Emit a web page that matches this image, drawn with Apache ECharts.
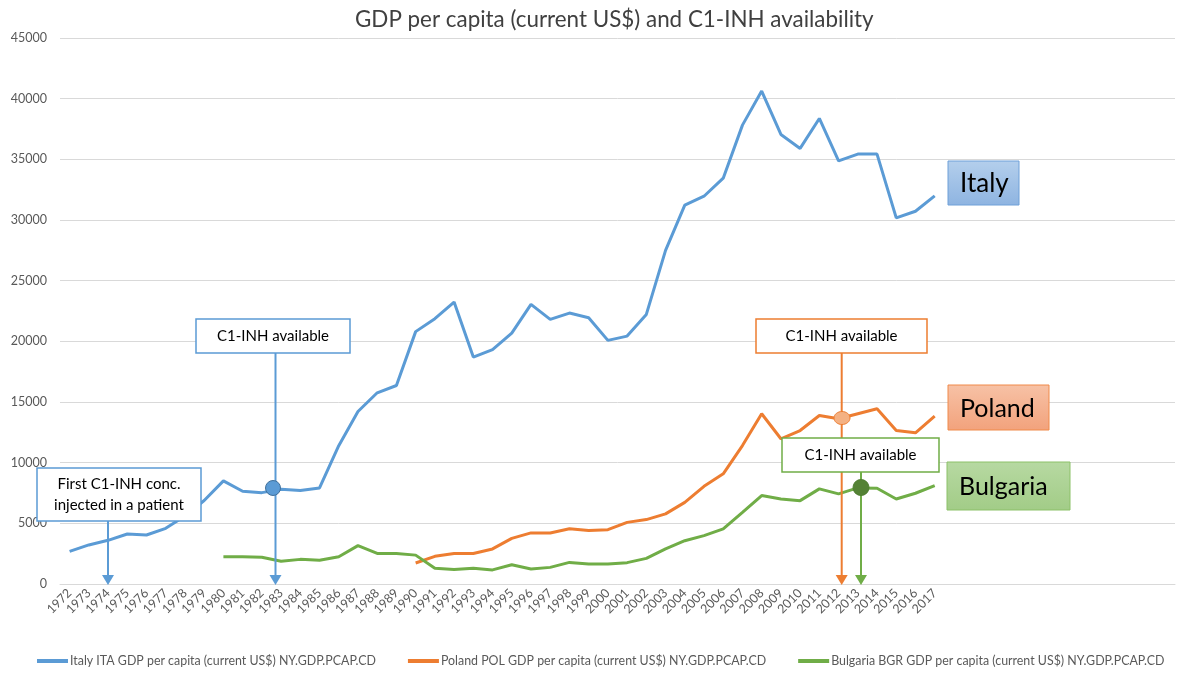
<!DOCTYPE html>
<html>
<head>
<meta charset="utf-8">
<script src="https://cdn.jsdelivr.net/npm/echarts@6/dist/echarts.min.js"></script>
<style>html,body{margin:0;padding:0;background:#fff}#c{width:1180px;height:673px}</style>
</head>
<body>
<div id="c"></div>
<script>
const years = ['1972','1973','1974','1975','1976','1977','1978','1979','1980','1981','1982','1983','1984','1985','1986','1987','1988','1989','1990','1991','1992','1993','1994','1995','1996','1997','1998','1999','2000','2001','2002','2003','2004','2005','2006','2007','2008','2009','2010','2011','2012','2013','2014','2015','2016','2017'];
const emptySlots = ['','','','','','','','','','','',''];
const categories = years.concat(emptySlots);

const italy = [2690,3220,3600,4120,4040,4590,5600,6880,8500,7640,7530,7800,7700,7920,11400,14220,15760,16360,20800,21870,23240,18700,19310,20680,23050,21810,22330,21950,20080,20430,22220,27500,31220,31960,33450,37820,40630,37050,35900,38370,34870,35430,35430,30170,30720,31990];
const poland = [null,null,null,null,null,null,null,null,null,null,null,null,null,null,null,null,null,null,1730,2280,2520,2520,2890,3760,4210,4210,4560,4400,4480,5080,5310,5780,6730,8050,9080,11410,14030,11970,12650,13890,13620,14030,14440,12650,12460,13830];
const bulgaria = [null,null,null,null,null,null,null,null,2250,2250,2200,1870,2030,1950,2250,3160,2520,2520,2380,1290,1200,1290,1160,1590,1240,1370,1780,1650,1650,1760,2110,2890,3570,3990,4540,5910,7290,7010,6870,7840,7430,7920,7890,7010,7480,8110];

const seriesNames = [
  'Italy ITA GDP per capita (current US$) NY.GDP.PCAP.CD',
  'Poland POL GDP per capita (current US$) NY.GDP.PCAP.CD',
  'Bulgaria BGR GDP per capita (current US$) NY.GDP.PCAP.CD'
];
const colors = ['#5B9BD5','#ED7D31','#70AD47'];
const FONT = 'Lato';

function arrow(x, yTop, color) {
  return [
    {type:'line', z:100, shape:{x1:x,y1:yTop,x2:x,y2:577}, style:{stroke:color,lineWidth:2}},
    {type:'polygon', z:100, shape:{points:[[x-6,575],[x+6,575],[x,585]]}, style:{fill:color}}
  ];
}
function callout(x, y, w, h, color, lines, fs) {
  const els = [{type:'rect', z:101, shape:{x:x,y:y,width:w,height:h}, style:{fill:'#fff',stroke:color,lineWidth:1.5}}];
  const lh = fs + 6;
  const startY = y + h/2 - (lines.length-1)*lh/2;
  lines.forEach((t,i)=>{
    els.push({type:'text', z:102, style:{text:t, x:x+w/2, y:startY+i*lh, align:'center', verticalAlign:'middle', font:fs+'px '+FONT, fill:'#000'}});
  });
  return els;
}
function label(x, y, w, h, c1, c2, stroke, text, fs) {
  return [
    {type:'rect', z:101, shape:{x:x,y:y,width:w,height:h}, style:{fill:new echarts.graphic.LinearGradient(0,0,0,1,[{offset:0,color:c1},{offset:1,color:c2}]),stroke:stroke,lineWidth:1}},
    {type:'text', z:102, style:{text:text, x:x+12, y:y+h/2+1, align:'left', verticalAlign:'middle', font:fs+'px '+FONT, fill:'#000'}}
  ];
}

const graphics = [].concat(
  arrow(108, 521, colors[0]),
  callout(37, 468, 164, 53, colors[0], ['First C1-INH conc.','injected in a patient'], 15),
  arrow(275.5, 353, colors[0]),
  callout(196, 319, 154, 34, colors[0], ['C1-INH available'], 15),
  [{type:'circle', z:103, shape:{cx:273,cy:488,r:7.5}, style:{fill:'#5B9BD5',stroke:'#41719C',lineWidth:1}}],
  arrow(841.7, 353, colors[1]),
  callout(756, 319, 171, 34, colors[1], ['C1-INH available'], 15),
  [{type:'ellipse', z:103, shape:{cx:842,cy:418,rx:8,ry:6.5}, style:{fill:'#F4B183',stroke:'#ED7D31',lineWidth:1}}],
  arrow(861, 472, colors[2]),
  callout(782, 438, 157, 34, colors[2], ['C1-INH available'], 15),
  [{type:'circle', z:103, shape:{cx:861,cy:487.5,r:8}, style:{fill:'#548235',stroke:'#507E32',lineWidth:1}}],
  label(948, 161, 71, 44, '#B4CFEC', '#8EB4E1', '#6FA0D8', 'Italy', 26),
  label(948, 385, 101, 45, '#F7C2A6', '#F2A27C', '#F08A4B', 'Poland', 25),
  label(947, 462, 123, 48, '#B7D9A2', '#A2CC87', '#8CC168', 'Bulgaria', 25)
);

const chart = echarts.init(document.getElementById('c'), null, {renderer:'canvas'});
chart.setOption({
  animation:false,
  backgroundColor:'#fff',
  title:{text:'GDP per capita (current US$) and C1-INH availability', left:350, top:4, textStyle:{fontFamily:FONT, fontSize:22.4, fontWeight:'normal', color:'#404040'}},
  grid:{left:60, right:5, top:38, bottom:89, containLabel:false},
  xAxis:{type:'category', data:categories, boundaryGap:true,
    axisLine:{lineStyle:{color:'#D9D9D9',width:1}}, axisTick:{show:false},
    axisLabel:{rotate:45, interval:0, fontFamily:FONT, fontSize:12.5, color:'#595959', margin:7}},
  yAxis:{type:'value', min:0, max:45000, interval:5000,
    axisLine:{show:false}, axisTick:{show:false},
    axisLabel:{fontFamily:FONT, fontSize:12.5, color:'#595959', margin:13, formatter:v=>String(v)},
    splitLine:{lineStyle:{color:'#D9D9D9',width:1}}},
  legend:{type:'plain', orient:'horizontal', top:655, left:37, width:1140, padding:0, itemGap:32, itemWidth:31, itemHeight:4, icon:'rect',
    textStyle:{fontFamily:FONT, fontSize:12.4, color:'#595959', padding:[0,0,0,-3]},
    data:seriesNames},
  series:[
    {name:seriesNames[0], type:'line', data:italy, showSymbol:false, symbol:'none', lineStyle:{width:3,color:colors[0]}, itemStyle:{color:colors[0]}},
    {name:seriesNames[1], type:'line', data:poland, showSymbol:false, symbol:'none', lineStyle:{width:3,color:colors[1]}, itemStyle:{color:colors[1]}},
    {name:seriesNames[2], type:'line', data:bulgaria, showSymbol:false, symbol:'none', lineStyle:{width:3,color:colors[2]}, itemStyle:{color:colors[2]}}
  ],
  graphic:graphics
});
</script>
</body>
</html>
